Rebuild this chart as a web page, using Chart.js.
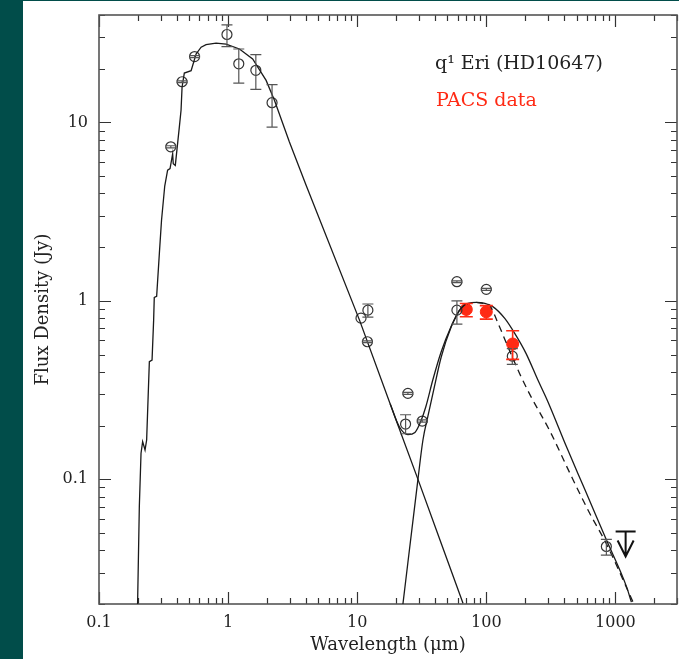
<!DOCTYPE html>
<html><head><meta charset="utf-8">
<script src="https://cdn.jsdelivr.net/npm/chart.js@4/dist/chart.umd.min.js"></script>
<style>html,body{margin:0;padding:0;background:#fff;overflow:hidden}canvas{display:block}</style>
</head><body>
<canvas id="c" width="679" height="659"></canvas>
<script>
// ---------- data ----------
const starWave = [0.199,0.2053,0.2116,0.2178,0.2273,0.2339,0.2455,0.2576,0.265,0.268,0.2796,0.2934,0.305,0.323,0.340,0.355,0.372,0.376,0.390,0.419,0.432,0.44,0.458,0.517,0.565,0.618,0.675,0.807,0.965,1.224,1.55,1.97,2.285,2.98,4.02,10.42,20,30,45,66];
const starFlux = [0.02,0.0703,0.14,0.1625,0.146,0.166,0.456,0.466,0.78,1.045,1.06,1.84,2.83,4.4,5.4,5.51,6.68,5.87,5.74,9.41,11.7,15.8,18.9,19.5,24.2,26.4,27.3,27.8,27.5,25.8,22.7,17.2,13.3,7.8,4.45,0.78,0.215,0.097,0.0432,0.0202];

const dustWave = [22.6,29.5,32.3,35.2,39.6,44.8,53.5,62.2,72,83.8,97.5,113,139,166,203,251,300,418,581,851,1217,1330];
const dustFlux = [0.02,0.099,0.166,0.224,0.33,0.486,0.715,0.89,0.967,0.98,0.967,0.925,0.797,0.657,0.508,0.36,0.272,0.152,0.0873,0.0458,0.0251,0.0205];

const totalWave = [18,21.2,24.7,28,31,34,38.5,44.8,53.5,62.2];
const totalFlux = [0.265,0.197,0.178,0.183,0.21,0.255,0.36,0.52,0.72,0.89];

const altWave = [83.8,97.5,105,126.6,147,181,216.7,310,442,632,851,1370];
const altFlux = [0.98,0.965,0.95,0.715,0.553,0.392,0.30,0.187,0.109,0.0645,0.0435,0.0205];

const obsWave = [0.36,0.44,0.55,0.98,1.21,1.64,2.19,10.7,12.1,12.0,24.7,23.7,31.9,59.2,59.2,100,159,851];
const obsFlux = [7.3,16.9,23.4,31.1,21.3,19.6,12.9,0.80,0.887,0.59,0.303,0.204,0.212,1.28,0.887,1.16,0.49,0.042];
const obsLow  = [7.2,16.7,23.1,26.6,16.6,15.3,9.4,0.80,0.81,0.583,0.299,0.18,0.209,1.265,0.74,1.145,0.44,0.0376];
const obsHigh = [7.4,17.1,23.7,35.2,25.8,24.0,16.3,0.80,0.96,0.597,0.307,0.23,0.215,1.295,1.0,1.175,0.54,0.046];

const pacsWave = [70,100,160];
const pacsFlux = [0.895,0.868,0.573];
const pacsLow  = [0.814,0.79,0.47];
const pacsHigh = [0.967,0.94,0.68];

const limitWave = [1200];
const limitFlux = [0.051];

const xTickValues = [0.1,1,10,100,1000];
const xTickLabels = ['0.1','1','10','100','1000'];
const yTickValues = [0.1,1,10];
const yTickLabels = ['0.1','1','10'];

const titleText = 'q\u00B9 Eri (HD10647)';
const pacsText = 'PACS data';
const xTitle = 'Wavelength (\u03BCm)';
const yTitle = 'Flux Density (Jy)';

// ---------- helpers ----------
const pts = (xs, ys) => xs.map((v, i) => ({x: v, y: ys[i]}));
const FONT = "'DejaVu Serif', 'Liberation Serif', serif";
const LINE = '#1a1a1a';
const RED = '#ff2a14';

const bgPlugin = {
  id: 'bg',
  beforeDraw(chart) {
    const ctx = chart.ctx;
    ctx.save();
    ctx.fillStyle = '#ffffff';
    ctx.fillRect(0, 0, chart.width, chart.height);
    ctx.fillStyle = '#014d4a';
    ctx.fillRect(0, 0, 23, chart.height);
    ctx.fillRect(0, 0, chart.width, 1);
    ctx.restore();
  }
};

function minorList(lo, hi) {
  const out = [];
  for (let d = Math.floor(Math.log10(lo)); d <= Math.ceil(Math.log10(hi)); d++) {
    for (let m = 1; m <= 9; m++) {
      const v = m * Math.pow(10, d);
      if (v >= lo * 0.999 && v <= hi * 1.001) out.push({v, major: m === 1});
    }
  }
  return out;
}

const framePlugin = {
  id: 'frame',
  beforeDatasetsDraw(chart) {
    const {ctx, chartArea: a, scales: {x, y}} = chart;
    ctx.save();
    ctx.strokeStyle = '#333';
    ctx.lineWidth = 1.2;
    ctx.beginPath();
    for (const t of minorList(x.min, x.max)) {
      const p = Math.round(x.getPixelForValue(t.v)) + 0.5;
      const L = t.major ? 12 : 6;
      ctx.moveTo(p, a.bottom); ctx.lineTo(p, a.bottom - L);
      ctx.moveTo(p, a.top); ctx.lineTo(p, a.top + L);
    }
    for (const t of minorList(y.min, y.max)) {
      const p = Math.round(y.getPixelForValue(t.v)) + 0.5;
      const L = t.major ? 12 : 6;
      ctx.moveTo(a.left, p); ctx.lineTo(a.left + L, p);
      ctx.moveTo(a.right, p); ctx.lineTo(a.right - L, p);
    }
    ctx.stroke();
    ctx.strokeStyle = '#555';
    ctx.lineWidth = 1.6;
    ctx.strokeRect(a.left, a.top, a.right - a.left, a.bottom - a.top);
    ctx.restore();
  }
};

function drawErr(ctx, x, y, xs, lo, hi, color, cap, lw) {
  ctx.save();
  ctx.strokeStyle = color;
  ctx.lineWidth = lw;
  ctx.beginPath();
  for (let i = 0; i < xs.length; i++) {
    if (lo[i] === hi[i]) continue;
    const px = x.getPixelForValue(xs[i]);
    const p1 = y.getPixelForValue(lo[i]);
    const p2 = y.getPixelForValue(hi[i]);
    ctx.moveTo(px, p1); ctx.lineTo(px, p2);
    ctx.moveTo(px - cap, p1); ctx.lineTo(px + cap, p1);
    ctx.moveTo(px - cap, p2); ctx.lineTo(px + cap, p2);
  }
  ctx.stroke();
  ctx.restore();
}

const errPlugin = {
  id: 'err',
  afterDatasetsDraw(chart) {
    const {ctx, chartArea: a, scales: {x, y}} = chart;
    drawErr(ctx, x, y, obsWave, obsLow, obsHigh, '#555', 5.5, 1.2);
    drawErr(ctx, x, y, pacsWave, pacsLow, pacsHigh, RED, 6.5, 1.6);
    // upper limit arrow
    ctx.save();
    ctx.strokeStyle = '#111';
    ctx.lineWidth = 2;
    for (let i = 0; i < limitWave.length; i++) {
      const px = x.getPixelForValue(limitWave[i]);
      const py = y.getPixelForValue(limitFlux[i]);
      ctx.beginPath();
      ctx.moveTo(px - 10, py); ctx.lineTo(px + 10, py);
      ctx.moveTo(px, py); ctx.lineTo(px, py + 25);
      ctx.moveTo(px - 8, py + 9); ctx.lineTo(px, py + 25); ctx.lineTo(px + 8, py + 9);
      ctx.stroke();
    }
    ctx.restore();
    // annotation texts
    ctx.save();
    ctx.font = '19px ' + FONT;
    ctx.textBaseline = 'alphabetic';
    ctx.textAlign = 'left';
    ctx.fillStyle = '#222';
    ctx.fillText(titleText, a.left + 336, a.top + 54);
    ctx.fillStyle = RED;
    ctx.fillText(pacsText, a.left + 337, a.top + 91);
    ctx.restore();
  }
};

const lineDs = (label, xs, ys, extra) => Object.assign({
  label, data: pts(xs, ys), showLine: true, pointRadius: 0,
  borderColor: LINE, borderWidth: 1.3, fill: false, tension: 0
}, extra || {});

const noPad = s => { s.paddingTop = 0; s.paddingBottom = 0; s.paddingLeft = 0; s.paddingRight = 0; };

new Chart(document.getElementById('c'), {
  type: 'scatter',
  data: {
    datasets: [
      lineDs('star', starWave, starFlux),
      lineDs('dust', dustWave, dustFlux, {cubicInterpolationMode: 'monotone'}),
      lineDs('total', totalWave, totalFlux, {cubicInterpolationMode: 'monotone'}),
      lineDs('alt', altWave, altFlux, {borderDash: [7, 5], cubicInterpolationMode: 'monotone'}),
      {label: 'obs', data: pts(obsWave, obsFlux), pointRadius: 5, pointStyle: 'circle',
       borderColor: '#333', backgroundColor: 'rgba(0,0,0,0)', pointBorderWidth: 1.2, showLine: false},
      {label: 'pacs', data: pts(pacsWave, pacsFlux), pointRadius: 6, pointStyle: 'circle',
       borderColor: RED, backgroundColor: RED, pointBorderWidth: 1, showLine: false}
    ]
  },
  options: {
    responsive: false, animation: false, devicePixelRatio: 1,
    layout: {autoPadding: false, padding: {top: 15, right: 2, left: 0, bottom: 0}},
    plugins: {legend: {display: false}, tooltip: {enabled: false}},
    scales: {
      x: {
        type: 'logarithmic', min: 0.1, max: 3000, position: 'bottom',
        grid: {display: false, drawTicks: false}, border: {display: false},
        afterFit: s => { s.height = 55; noPad(s); },
        afterBuildTicks: s => { s.ticks = xTickValues.map(v => ({value: v})); },
        ticks: {autoSkip: false, maxRotation: 0, padding: 9, color: '#222',
          font: {family: FONT, size: 16}, callback: (v, i) => xTickLabels[i]},
        title: {display: true, text: xTitle, color: '#222', font: {family: FONT, size: 18}, padding: {top: 0, bottom: 3}}
      },
      y: {
        type: 'logarithmic', min: 0.02, max: 40, position: 'left',
        grid: {display: false, drawTicks: false}, border: {display: false},
        afterFit: s => { s.width = 99; noPad(s); },
        afterBuildTicks: s => { s.ticks = yTickValues.map(v => ({value: v})); },
        ticks: {autoSkip: false, padding: 11, color: '#222',
          font: {family: FONT, size: 16}, callback: (v, i) => yTickLabels[i]},
        title: {display: true, text: yTitle, color: '#222', font: {family: FONT, size: 18}, padding: {top: 33, bottom: 0}}
      }
    }
  },
  plugins: [bgPlugin, framePlugin, errPlugin]
});
</script>
</body></html>
